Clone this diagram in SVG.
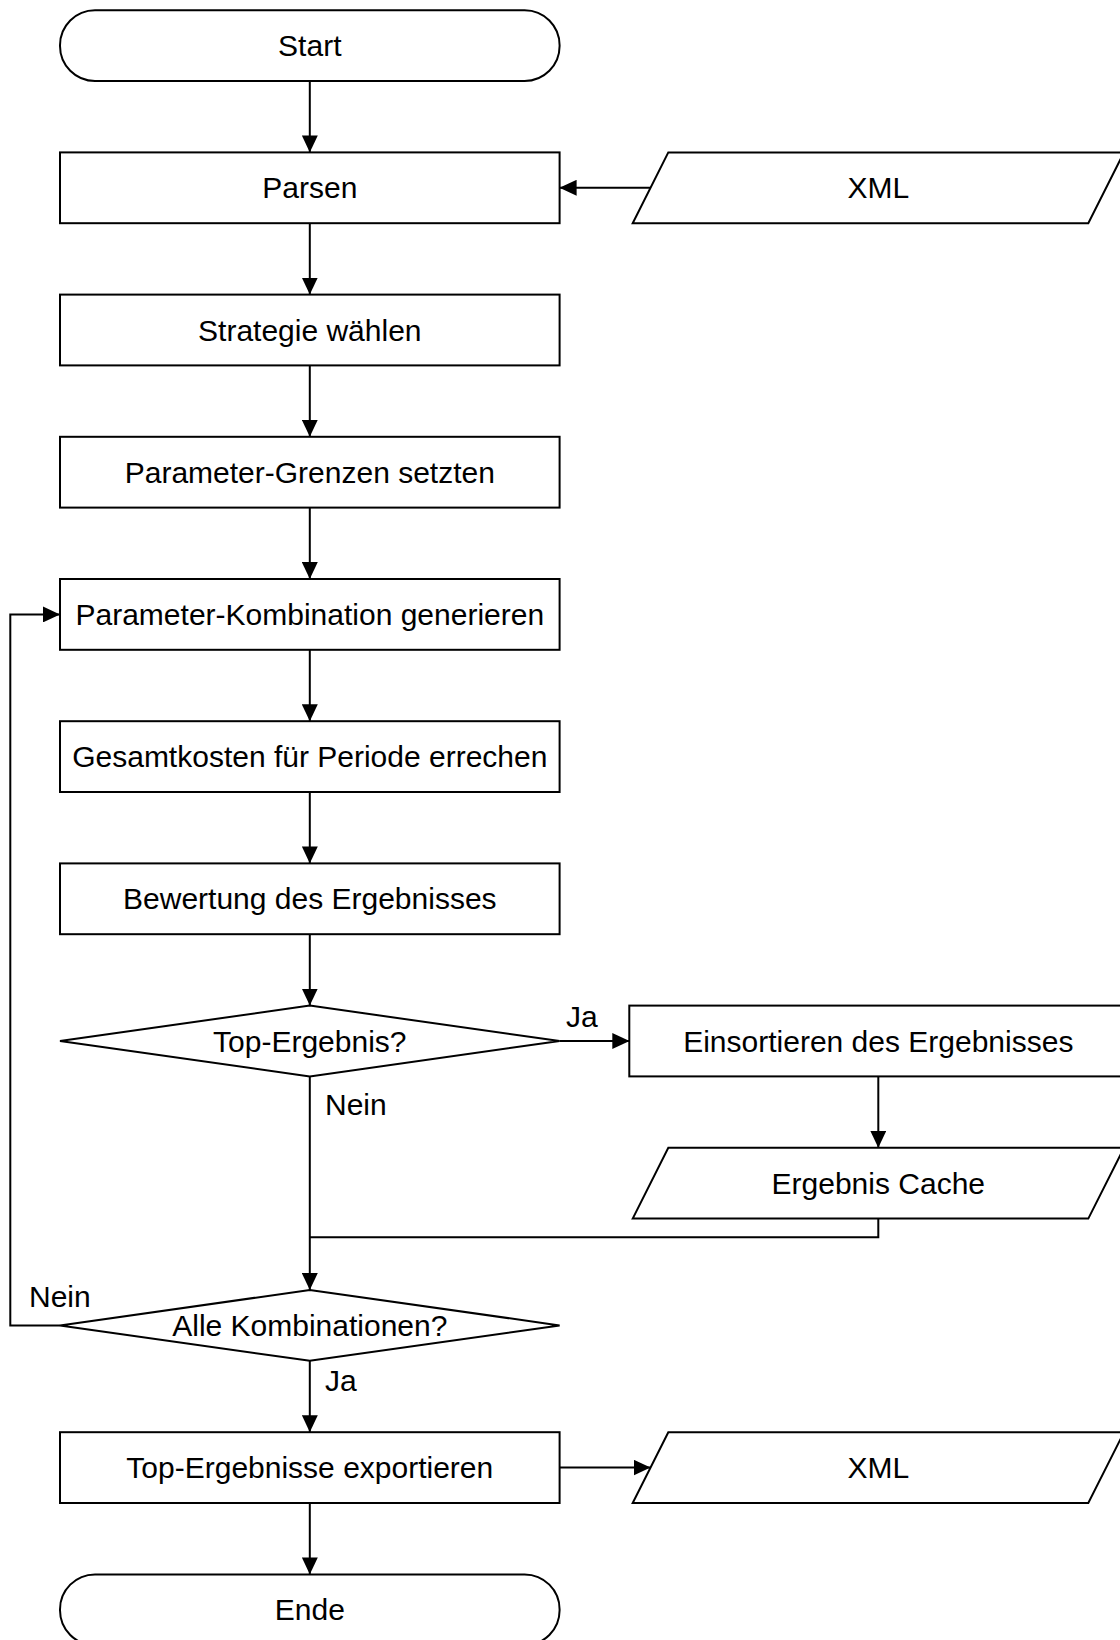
<svg xmlns="http://www.w3.org/2000/svg" width="1120" height="1640" viewBox="0 0 1120 1640">
  <defs>
    <marker id="arrow" viewBox="0 0 17 16" refX="17" refY="8" markerWidth="17" markerHeight="16" markerUnits="userSpaceOnUse" orient="auto">
      <path d="M0,0 L17,8 L0,16 Z" fill="#000"/>
    </marker>
    <style>
      .shape { fill: #fff; stroke: #000; stroke-width: 2; }
      .edge { fill: none; stroke: #000; stroke-width: 2; }
      .arr { marker-end: url(#arrow); }
      text { font-family: "Liberation Sans", Arial, sans-serif; font-size: 30px; fill: #000; }
      .c { text-anchor: middle; }
    </style>
  </defs>
  <rect width="1120" height="1640" fill="#fff"/>

  <!-- connectors -->
  <g id="connectors">
    <path class="edge arr" d="M309.8,81 L309.8,152.4"/>
    <path class="edge arr" d="M650.5,187.8 L559.6,187.8"/>
    <path class="edge arr" d="M309.8,223.2 L309.8,294.6"/>
    <path class="edge arr" d="M309.8,365.4 L309.8,436.8"/>
    <path class="edge arr" d="M309.8,507.6 L309.8,579"/>
    <path class="edge arr" d="M309.8,649.8 L309.8,721.2"/>
    <path class="edge arr" d="M309.8,792 L309.8,863.4"/>
    <path class="edge arr" d="M309.8,934.2 L309.8,1005.6"/>
    <path class="edge arr" d="M559.6,1041 L629.3,1041"/>
    <path class="edge arr" d="M878.3,1076.4 L878.3,1147.8"/>
    <path class="edge" d="M878.3,1218.6 L878.3,1237.3 L309.8,1237.3"/>
    <path class="edge arr" d="M309.8,1076.4 L309.8,1290"/>
    <path class="edge arr" d="M60,1325.4 L10.3,1325.4 L10.3,614.4 L60,614.4"/>
    <path class="edge arr" d="M309.8,1360.8 L309.8,1432.2"/>
    <path class="edge arr" d="M559.6,1467.6 L650.5,1467.6"/>
    <path class="edge arr" d="M309.8,1503 L309.8,1574.4"/>
    <text x="566" y="1027">Ja</text>
    <text x="325" y="1115">Nein</text>
    <text x="29" y="1307">Nein</text>
    <text x="325" y="1391">Ja</text>
  </g>

  <!-- nodes -->
  <g id="start">
    <rect class="shape" x="60" y="10.2" width="499.6" height="70.8" rx="35" ry="35"/>
    <text class="c" x="309.8" y="56.1">Start</text>
  </g>
  <g id="parsen">
    <rect class="shape" x="60" y="152.4" width="499.6" height="70.8"/>
    <text class="c" x="309.8" y="198.3">Parsen</text>
  </g>
  <g id="xml-in">
    <polygon class="shape" points="632.7,223.2 668.3,152.4 1124,152.4 1088.3,223.2"/>
    <text class="c" x="878.3" y="198.3">XML</text>
  </g>
  <g id="strategie">
    <rect class="shape" x="60" y="294.6" width="499.6" height="70.8"/>
    <text class="c" x="309.8" y="340.5">Strategie wählen</text>
  </g>
  <g id="grenzen">
    <rect class="shape" x="60" y="436.8" width="499.6" height="70.8"/>
    <text class="c" x="309.8" y="482.7">Parameter-Grenzen setzten</text>
  </g>
  <g id="kombination">
    <rect class="shape" x="60" y="579" width="499.6" height="70.8"/>
    <text class="c" x="309.8" y="624.9">Parameter-Kombination generieren</text>
  </g>
  <g id="gesamtkosten">
    <rect class="shape" x="60" y="721.2" width="499.6" height="70.8"/>
    <text class="c" x="309.8" y="767.1">Gesamtkosten für Periode errechen</text>
  </g>
  <g id="bewertung">
    <rect class="shape" x="60" y="863.4" width="499.6" height="70.8"/>
    <text class="c" x="309.8" y="909.3">Bewertung des Ergebnisses</text>
  </g>
  <g id="top-ergebnis">
    <polygon class="shape" points="60,1041 309.8,1005.6 559.6,1041 309.8,1076.4"/>
    <text class="c" x="309.8" y="1051.5">Top-Ergebnis?</text>
  </g>
  <g id="einsortieren">
    <rect class="shape" x="629.3" y="1005.6" width="498" height="70.8"/>
    <text class="c" x="878.3" y="1051.5">Einsortieren des Ergebnisses</text>
  </g>
  <g id="cache">
    <polygon class="shape" points="632.7,1218.6 668.3,1147.8 1124,1147.8 1088.3,1218.6"/>
    <text class="c" x="878.3" y="1193.7">Ergebnis Cache</text>
  </g>
  <g id="alle-kombinationen">
    <polygon class="shape" points="60,1325.4 309.8,1290 559.6,1325.4 309.8,1360.8"/>
    <text class="c" x="309.8" y="1335.9">Alle Kombinationen?</text>
  </g>
  <g id="export">
    <rect class="shape" x="60" y="1432.2" width="499.6" height="70.8"/>
    <text class="c" x="309.8" y="1478.1">Top-Ergebnisse exportieren</text>
  </g>
  <g id="xml-out">
    <polygon class="shape" points="632.7,1503 668.3,1432.2 1124,1432.2 1088.3,1503"/>
    <text class="c" x="878.3" y="1478.1">XML</text>
  </g>
  <g id="ende">
    <rect class="shape" x="60" y="1574.4" width="499.6" height="70.8" rx="35" ry="35"/>
    <text class="c" x="309.8" y="1620.3">Ende</text>
  </g>
</svg>
